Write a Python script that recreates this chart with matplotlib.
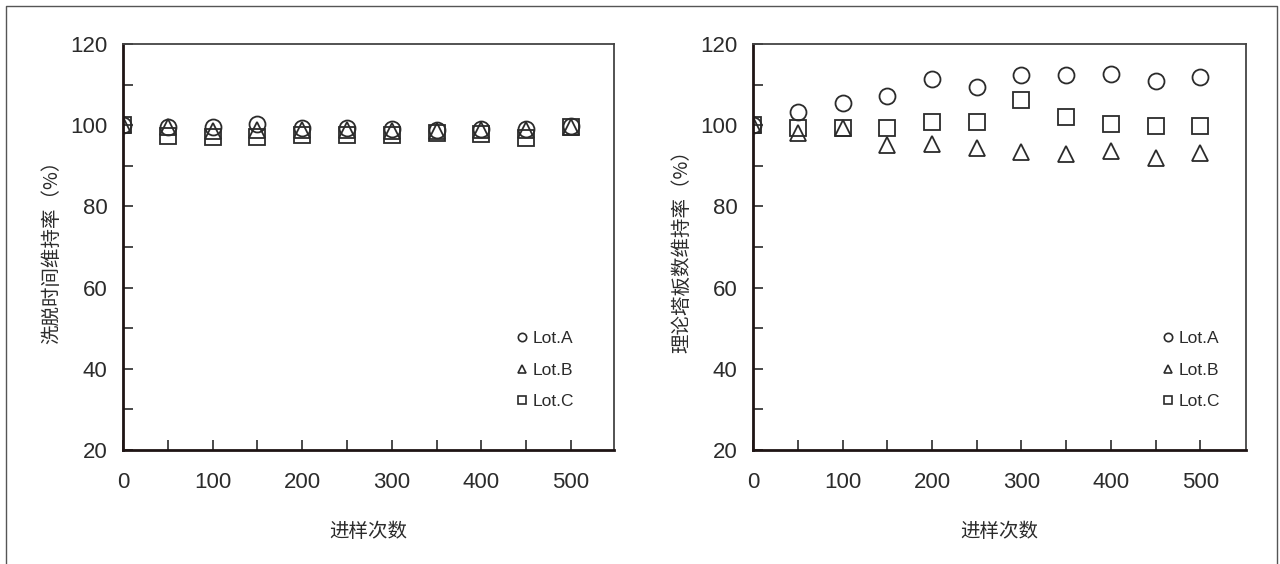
import matplotlib.pyplot as plt
from matplotlib.lines import Line2D

plt.rcParams['font.family'] = ['Liberation Sans', 'Noto Sans CJK SC', 'DejaVu Sans']

# injection counts
runs = [0, 50, 100, 150, 200, 250, 300, 350, 400, 450, 500]

# elution time retention (%)
elut_a = [100, 99.5, 99.5, 100.3, 99.3, 99.2, 99.0, 98.9, 99.0, 99.0, 99.7]
elut_b = [100, 99.5, 98.5, 98.8, 98.8, 98.8, 98.5, 98.5, 98.8, 98.8, 99.5]
elut_c = [100, 97.3, 97.0, 97.0, 97.6, 97.7, 97.6, 98.0, 97.8, 96.9, 99.5]

# theoretical plate retention (%)
plate_a = [100, 103.3, 105.5, 107.2, 111.5, 109.4, 112.3, 112.3, 112.7, 110.8, 111.9]
plate_b = [100, 98.1, 99.3, 95.1, 95.3, 94.3, 93.4, 93.0, 93.7, 92.0, 93.2]
plate_c = [100, 99.2, 99.3, 99.2, 100.7, 100.7, 106.3, 101.9, 100.2, 99.8, 99.8]

lots = ['Lot.A', 'Lot.B', 'Lot.C']
markers = ['o', '^', 's']
ink = '#2b2b2b'
cjk = ['Noto Sans CJK SC', 'DejaVu Sans']

fig = plt.figure(figsize=(12.8, 5.64), dpi=100)

# outer frame (left, top, right)
fig.add_artist(Line2D([0.005, 0.005, 0.998, 0.998], [0.0, 0.989, 0.989, 0.0],
                      transform=fig.transFigure, color='#555555', lw=1.0))

panels = [
    ([0.0961, 0.2021, 0.3836, 0.7199], [elut_a, elut_b, elut_c], '洗脱时间维持率（%）', 548, 0.77),
    ([0.5883, 0.2021, 0.3852, 0.7199], [plate_a, plate_b, plate_c], '理论塔板数维持率（%）', 551, 0.80),
]

for rect, series, ylab, xmax, leg_x in panels:
    ax = fig.add_axes(rect)
    for vals, m in zip(series, markers):
        ms = 11.5 if m == 'o' else 11 if m == 's' else 12
        ax.plot(runs, vals, linestyle='none', marker=m, markersize=ms,
                markerfacecolor='none', markeredgecolor=ink, markeredgewidth=1.3)
    ax.set_xlim(0, xmax)
    ax.set_ylim(20, 120)
    ax.set_xticks(range(0, 501, 100))
    ax.set_xticks(range(0, 501, 50), minor=True)
    ax.set_yticks(range(20, 121, 20))
    ax.set_yticks(range(20, 121, 10), minor=True)
    ax.tick_params(which='both', direction='in', colors=ink, labelsize=16,
                   top=False, right=False, length=7, width=1.2)
    ax.tick_params(axis='y', pad=11)
    ax.tick_params(axis='x', pad=16)
    for s in ['left', 'bottom']:
        ax.spines[s].set_linewidth(2.0)
        ax.spines[s].set_color('#1e1414')
    for s in ['top', 'right']:
        ax.spines[s].set_linewidth(1.3)
        ax.spines[s].set_color('#444444')
    ax.set_xlabel('进样次数', fontsize=14, color=ink, labelpad=20, family=cjk)
    ax.set_ylabel(ylab, fontsize=14, color=ink, labelpad=6, family=cjk)

    handles = [Line2D([], [], linestyle='none', marker=m, markersize=6,
                      markerfacecolor='none', markeredgecolor=ink, markeredgewidth=1.2)
               for m in markers]
    ax.legend(handles, lots, loc='center left', bbox_to_anchor=(leg_x, 0.197),
              frameon=False, fontsize=12.5, handlelength=0.6, handletextpad=0.3,
              labelspacing=0.95, labelcolor=ink)

fig.savefig('out.png', dpi=100)
